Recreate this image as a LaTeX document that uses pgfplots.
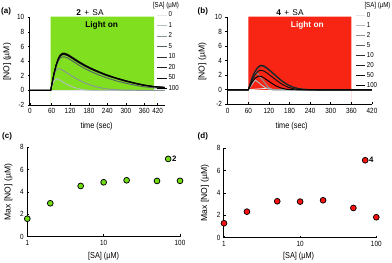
\documentclass[border=0pt]{standalone}
\usepackage{fontspec}
\setmainfont{Liberation Sans}[FakeStretch=0.85]
\newfontfamily\plainfont{Liberation Sans}
\usepackage{pgfplots}
\pgfplotsset{compat=1.18}
\definecolor{bggreen}{HTML}{80E020}
\definecolor{bgred}{HTML}{F82414}
\definecolor{ptgreen}{HTML}{70DD10}
\definecolor{ptred}{HTML}{FF1010}
\definecolor{c0}{HTML}{E4E8E8}
\definecolor{c1}{HTML}{B4BEBE}
\definecolor{c2}{HTML}{8A9696}
\definecolor{c5}{HTML}{566262}
\definecolor{c10}{HTML}{2A3030}
\definecolor{c20}{HTML}{1C2020}
\definecolor{c50}{HTML}{101010}
\definecolor{c100}{HTML}{000000}
\pgfplotsset{
  base/.style={scale only axis, axis x line*=bottom, axis y line*=left, axis on top, clip=false,
    axis line style={line width=1pt, black}, tick style={line width=0.7pt, black},
    major tick length=2.2pt,
    ticklabel style={font=\fontsize{7.5}{7.5}\selectfont},
    xlabel style={font=\fontsize{8.6}{9}\selectfont},
    ylabel style={font=\plainfont\fontsize{8.6}{9}\selectfont},
    /pgf/number format/assume math mode=true,
    anchor=south west},
  curve/.style={line width=0.95pt, no markers},
  leg/.style={legend cell align=left,
    legend image code/.code={\draw[##1, line width=1.1pt] (0pt,0pt) -- (9.5pt,0pt);}},
}
\begin{document}
\begin{tikzpicture}
\useasboundingbox (0,0) rectangle (392pt,263pt);
% ---------------- (a)
\begin{axis}[base, leg, at={(30pt,158pt)}, width=134.6pt, height=87.7pt,
  xmin=0, xmax=390, ymin=-2, ymax=10,
  xtick={0,63,116,171,224,278,331,370}, xticklabels={0,60,120,180,240,300,360,420},
  ytick={-2,0,2,4,6,8,10}, xtick align=inside, ytick align=outside,
  xlabel={time (sec)}, ylabel={[NO] (µM)},
  xlabel style={at={(axis description cs:0.495,-0.24)}, anchor=center},
  ylabel style={at={(axis description cs:-0.169,0.49)}, anchor=center},
  legend style={at={(rel axis cs:0.941,1.0656)}, anchor=north west, draw=none, fill=none,
    inner sep=0pt, outer sep=0pt, row sep=3.4pt, column sep=1pt,
    font=\fontsize{7.2}{7.2}\selectfont, nodes={inner sep=0.3pt}}]
\addplot[fill=bggreen, draw=none, forget plot] coordinates {(60,-2) (60,10.1) (360,10.1) (360,-2)} \closedcycle;
\addplot[curve, c0] coordinates {(0,0)(60,0)(390,0)};
\addplot[curve, c1] coordinates {(0,0)(60,0)(65,0.8)(70,1.3)(77,1.6)(85,1.45)(95,1.15)(110,0.75)(125,0.45)(140,0.22)(155,0.08)(170,0.02)(200,0)(390,0)};
\addplot[curve, c2] coordinates {(0,0)(60,0)(65,1.2)(70,2.2)(76,2.8)(82,3.0)(90,2.9)(100,2.6)(120,2.0)(140,1.45)(160,1.0)(180,0.65)(200,0.4)(220,0.22)(245,0.1)(270,0.05)(300,0.02)(330,0)(390,0)};
\addplot[curve, c5] coordinates {(0,0)(60,0)(64,0.9)(70,2.2)(76,3.25)(82,4.0)(88,4.45)(95,4.6)(100,4.58)(110,4.4)(120,4.1)(140,3.5)(160,2.95)(180,2.5)(200,2.1)(220,1.75)(250,1.3)(280,0.95)(305,0.7)(330,0.5)(360,0.35)(390,0.28)};
\addplot[curve, c10] coordinates {(0,0)(60,0)(64,1.0)(70,2.35)(76,3.45)(82,4.25)(88,4.72)(95,4.9)(100,4.9)(110,4.72)(120,4.42)(140,3.82)(160,3.28)(180,2.82)(200,2.42)(220,2.05)(250,1.6)(280,1.2)(305,0.92)(330,0.68)(360,0.48)(390,0.38)};
\addplot[curve, c20] coordinates {(0,0)(60,0)(64,1.05)(70,2.45)(76,3.6)(82,4.4)(88,4.9)(95,5.1)(100,5.1)(110,4.92)(120,4.62)(140,4.0)(160,3.45)(180,2.98)(200,2.56)(220,2.18)(250,1.7)(280,1.3)(305,1.0)(330,0.75)(360,0.53)(390,0.42)};
\addplot[curve, c50] coordinates {(0,0)(60,0)(64,1.0)(70,2.4)(76,3.5)(82,4.3)(88,4.8)(95,5.0)(100,5.0)(110,4.83)(120,4.55)(140,3.95)(160,3.4)(180,2.94)(200,2.53)(220,2.15)(250,1.68)(280,1.28)(305,0.98)(330,0.73)(360,0.52)(390,0.41)};
\addplot[curve, c100] coordinates {(0,0)(60,0)(64,1.0)(70,2.4)(76,3.5)(82,4.3)(88,4.8)(95,5.0)(100,5.0)(110,4.8)(120,4.5)(140,3.9)(160,3.35)(180,2.9)(200,2.5)(220,2.1)(250,1.65)(280,1.25)(305,0.95)(330,0.7)(360,0.5)(390,0.4)};
\legend{0,1,2,5,10,20,50,100}
\end{axis}
% ---------------- (b)
\begin{axis}[base, leg, at={(227.7pt,158.7pt)}, width=144.3pt, height=87pt,
  xmin=0, xmax=420, ymin=-2, ymax=10,
  xtick={0,60,...,420}, ytick={-2,0,2,4,6,8,10}, xtick align=inside, ytick align=outside,
  xlabel={time (sec)}, ylabel={[NO] (µM)},
  xlabel style={at={(axis description cs:0.443,-0.25)}, anchor=center},
  ylabel style={at={(axis description cs:-0.176,0.49)}, anchor=center},
  legend style={at={(rel axis cs:0.882,1.058)}, anchor=north west, draw=none, fill=none,
    inner sep=0pt, outer sep=0pt, row sep=2.9pt, column sep=1pt,
    font=\fontsize{7.2}{7.2}\selectfont, nodes={inner sep=0.3pt}}]
\addplot[fill=bgred, draw=none, forget plot] coordinates {(60,-2) (60,10.1) (360,10.1) (360,-2)} \closedcycle;
\addplot[curve, c0] coordinates {(0,0)(60,0)(80,0.08)(100,0.15)(120,0.2)(128,0.1)(135,0)(420,0)};
\addplot[curve, c1] coordinates {(0,0)(60,0)(70,0.7)(80,1.35)(90,1.0)(100,0.6)(110,0.3)(120,0.1)(130,0.02)(140,0)(420,0)};
\addplot[curve, c2] coordinates {(0,0)(60,0)(68,0.9)(76,1.8)(84,2.4)(92,1.95)(100,1.45)(108,0.95)(116,0.5)(124,0.12)(130,0)(420,0)};
\addplot[curve, c5] coordinates {(0,0)(60,0)(66,0.88)(72,1.77)(80,2.56)(88,3.1)(97,3.35)(106,3.25)(115,2.95)(130,2.36)(145,1.72)(160,1.13)(175,0.69)(190,0.37)(205,0.18)(220,0.07)(240,0.02)(260,0)(420,0)};
\addplot[curve, c10] coordinates {(0,0)(60,0)(66,0.87)(72,1.75)(80,2.53)(88,3.06)(97,3.3)(106,3.2)(115,2.91)(130,2.33)(145,1.7)(160,1.12)(175,0.68)(190,0.37)(205,0.17)(220,0.07)(240,0.02)(260,0)(420,0)};
\addplot[curve, c20] coordinates {(0,0)(60,0)(66,0.9)(72,1.8)(80,2.6)(88,3.15)(97,3.4)(106,3.3)(115,3.0)(130,2.4)(145,1.75)(160,1.15)(175,0.7)(190,0.38)(205,0.18)(220,0.07)(240,0.02)(260,0)(420,0)};
\addplot[curve, c50] coordinates {(0,0)(60,0)(66,0.7)(72,1.4)(80,2.1)(88,2.55)(95,2.7)(105,2.6)(115,2.3)(130,1.75)(145,1.2)(160,0.72)(175,0.38)(190,0.16)(205,0.05)(220,0)(420,0)};
\addplot[curve, c100] coordinates {(0,0)(60,0)(66,0.6)(72,1.1)(80,1.6)(90,1.9)(100,1.8)(110,1.5)(125,1.0)(140,0.55)(155,0.25)(170,0.08)(185,0.02)(200,0)(420,0)};
\legend{0,1,2,5,10,20,50,100}
\end{axis}
% ---------------- (c)
\begin{axis}[base, at={(27.3pt,26.3pt)}, width=152.7pt, height=89.4pt,
  xmode=log, xmin=1, xmax=100, ymin=0, ymax=8, xminorticks=false,
  xtick={1,10,100}, xticklabels={1,10,100}, ytick={0,2,4,6,8},
  tick align=inside,
  xlabel={[SA] (µM)}, ylabel={Max [NO] (µM)},
  xlabel style={at={(axis description cs:0.5,-0.216)}, anchor=center},
  ylabel style={at={(axis description cs:-0.124,0.5)}, anchor=center}]
\addplot[only marks, mark=*, mark size=2.9pt, mark options={fill=ptgreen, draw=black, line width=0.75pt}]
  coordinates {(1,1.61)(2,2.99)(5,4.54)(10,4.87)(20,5.05)(50,4.99)(100,5.0)};
\addplot[only marks, mark=*, mark size=2.9pt, mark options={fill=ptgreen, draw=black, line width=0.75pt}]
  coordinates {(70,6.96)};
\node[anchor=west, inner sep=0pt, xshift=3.8pt, font=\plainfont\bfseries\fontsize{7.8}{8}\selectfont] at (axis cs:70,6.96) {2};
\end{axis}
% ---------------- (d)
\begin{axis}[base, at={(224pt,25.3pt)}, width=152.3pt, height=89.4pt,
  xmode=log, xmin=1, xmax=100, ymin=0, ymax=8, xminorticks=false,
  xtick={1,10,100}, xticklabels={1,10,100}, ytick={0,2,4,6,8},
  tick align=inside,
  xlabel={[SA] (µM)}, ylabel={Max [NO] (µM)},
  xlabel style={at={(axis description cs:0.49,-0.21)}, anchor=center},
  ylabel style={at={(axis description cs:-0.125,0.5)}, anchor=center}]
\addplot[only marks, mark=*, mark size=2.9pt, mark options={fill=ptred, draw=black, line width=0.75pt}]
  coordinates {(1,1.29)(2,2.33)(5,3.26)(10,3.23)(20,3.35)(50,2.66)(100,1.83)};
\addplot[only marks, mark=*, mark size=2.9pt, mark options={fill=ptred, draw=black, line width=0.75pt}]
  coordinates {(71.5,6.93)};
\node[anchor=west, inner sep=0pt, xshift=3.8pt, font=\plainfont\bfseries\fontsize{7.8}{8}\selectfont] at (axis cs:71.5,6.93) {4};
\end{axis}
% ---------------- texts
\node[anchor=west, inner sep=0pt, font=\plainfont\bfseries\fontsize{8}{8}\selectfont] at (1pt,251.3pt) {(a)};
\node[anchor=west, inner sep=0pt, font=\plainfont\bfseries\fontsize{8}{8}\selectfont] at (197.5pt,251.3pt) {(b)};
\node[anchor=west, inner sep=0pt, font=\plainfont\bfseries\fontsize{8}{8}\selectfont] at (2pt,126.3pt) {(c)};
\node[anchor=west, inner sep=0pt, font=\plainfont\bfseries\fontsize{8}{8}\selectfont] at (197.5pt,127pt) {(d)};
\node[inner sep=0pt, font=\plainfont\fontsize{8.3}{8.3}\selectfont] at (90pt,250.7pt) {\textbf{2}\hspace{1pt} + \hspace{1pt}SA};
\node[inner sep=0pt, font=\plainfont\fontsize{8.3}{8.3}\selectfont] at (290pt,250.7pt) {\textbf{4}\hspace{1pt} + \hspace{1pt}SA};
\node[inner sep=0pt, font=\plainfont\bfseries\fontsize{8.3}{8.3}\selectfont] at (101.7pt,237.3pt) {Light on};
\node[inner sep=0pt, text=white, font=\plainfont\bfseries\fontsize{8.3}{8.3}\selectfont] at (307.3pt,237.3pt) {Light on};
\node[inner sep=0pt, font=\fontsize{7.2}{7.2}\selectfont] at (166pt,257.7pt) {[SA] (µM)};
\node[inner sep=0pt, font=\fontsize{7.2}{7.2}\selectfont] at (377.5pt,257.3pt) {[SA] (µM)};
\end{tikzpicture}
\end{document}
